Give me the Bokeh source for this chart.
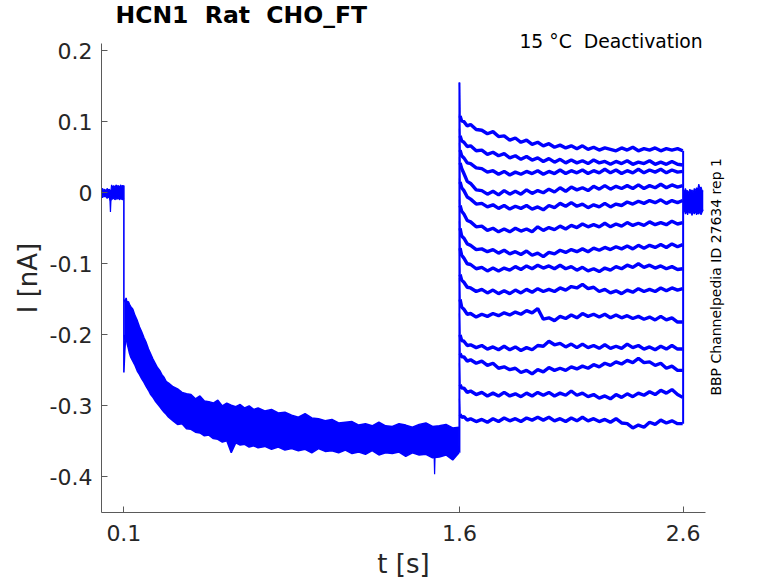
import math
from bokeh.plotting import figure
from bokeh.models import FixedTicker, Range1d, NumeralTickFormatter, LinearAxis
from bokeh.embed import file_html
from bokeh.resources import INLINE

TRACE_COLOR = "#0000ff"
FONT = "DejaVu Sans"
TEXT_COLOR = "#262626"
AXIS_COLOR = "#5a5a5a"

# double spaces kept visible with a no-break space
title_text = "HCN1 \u00a0Rat \u00a0CHO_FT"
condition_text = "15 °C \u00a0Deactivation"
id_text = "BBP Channelpedia ID 27634 rep 1"
x_label = "t [s]"
y_label = "I [nA]"

x_ticks = [0.1, 1.6, 2.6]
x_tick_labels = ["0.1", "1.6", "2.6"]
y_ticks = [-0.4, -0.3, -0.2, -0.1, 0.0, 0.1, 0.2]
y_tick_labels = ["-0.4", "-0.3", "-0.2", "-0.1", "0", "0.1", "0.2"]

# ---- holding current, 0 - 0.1 s (noise band edges, nA) ----
hold_t = [0.0, 0.005, 0.01, 0.015, 0.02, 0.025, 0.03, 0.035, 0.038, 0.04, 0.042, 0.045,
          0.05, 0.055, 0.06, 0.065, 0.07, 0.075, 0.08, 0.085, 0.09, 0.095, 0.1]
hold_hi = [0.004, 0.006, 0.003, 0.005, 0.002, 0.006, 0.004, 0.005, 0.003, -0.004, 0.002, 0.011,
           0.008, 0.010, 0.007, 0.011, 0.009, 0.010, 0.007, 0.011, 0.009, 0.010, 0.009]
hold_lo = [-0.005, -0.007, -0.004, -0.006, -0.005, -0.008, -0.006, -0.007, -0.012, -0.027, -0.012, -0.008,
           -0.009, -0.007, -0.010, -0.008, -0.009, -0.007, -0.010, -0.008, -0.009, -0.010, -0.008]

# ---- step onset at 0.1 s ----
onset_t = [0.1, 0.1, 0.1, 0.104, 0.108]
onset_i = [0.010, -0.253, -0.253, -0.222, -0.205]

# ---- activating prepulse 0.1 - 1.6 s: envelope of the 14 overlapping sweeps ----
pre_t = [0.102, 0.105, 0.11, 0.115, 0.12, 0.125, 0.13, 0.14, 0.15, 0.16, 0.17, 0.18, 0.19, 0.2,
         0.21, 0.22, 0.23, 0.24, 0.25, 0.26, 0.27, 0.28, 0.29, 0.3, 0.32, 0.34, 0.36, 0.38, 0.4,
         0.42, 0.44, 0.46, 0.48, 0.5, 0.52, 0.54, 0.56, 0.58, 0.6, 0.62, 0.64, 0.66, 0.68, 0.7,
         0.73, 0.76, 0.79, 0.82, 0.85, 0.88, 0.91, 0.94, 0.97, 1.0, 1.03, 1.06, 1.09, 1.12, 1.15,
         1.18, 1.21, 1.24, 1.27, 1.3, 1.33, 1.36, 1.39, 1.42, 1.45, 1.48, 1.51, 1.54, 1.57, 1.598]
pre_hi = [-0.150, -0.154, -0.148, -0.156, -0.153, -0.157, -0.160, -0.164, -0.173, -0.180,
          -0.189, -0.196, -0.204, -0.211, -0.220, -0.227, -0.234, -0.240, -0.246, -0.250,
          -0.256, -0.260, -0.266, -0.268, -0.273, -0.276, -0.281, -0.283, -0.284, -0.290,
          -0.286, -0.293, -0.294, -0.296, -0.292, -0.300, -0.296, -0.299, -0.301, -0.298,
          -0.303, -0.300, -0.305, -0.303, -0.307, -0.305, -0.310, -0.309, -0.313, -0.316,
          -0.311, -0.317, -0.318, -0.321, -0.319, -0.324, -0.323, -0.322, -0.327, -0.325,
          -0.328, -0.323, -0.328, -0.329, -0.325, -0.327, -0.330, -0.326, -0.324, -0.329,
          -0.328, -0.326, -0.331, -0.330]
pre_lo = [-0.200, -0.207, -0.204, -0.213, -0.219, -0.226, -0.231, -0.237, -0.243, -0.251,
          -0.256, -0.262, -0.267, -0.273, -0.278, -0.284, -0.288, -0.293, -0.297, -0.301,
          -0.305, -0.309, -0.312, -0.316, -0.321, -0.326, -0.325, -0.332, -0.333, -0.337,
          -0.338, -0.342, -0.341, -0.346, -0.347, -0.351, -0.349, -0.366, -0.352, -0.355,
          -0.354, -0.358, -0.356, -0.359, -0.357, -0.361, -0.358, -0.362, -0.360, -0.363,
          -0.361, -0.366, -0.360, -0.364, -0.363, -0.366, -0.362, -0.367, -0.365, -0.368,
          -0.363, -0.369, -0.366, -0.367, -0.365, -0.371, -0.366, -0.369, -0.368, -0.373,
          -0.372, -0.369, -0.376, -0.366]

# single downward glitch near 1.49 s
glitch_t = [1.486, 1.489, 1.492]
glitch_i = [-0.356, -0.396, -0.357]

# ---- deactivation test pulses 1.6 - 2.6 s ----
peak_t = 1.6
peak_i = [0.155, 0.110, 0.090, 0.070, 0.050, 0.020, -0.010, -0.040, -0.080, -0.120, -0.170, -0.200, -0.240, -0.290]

test_t = [1.603, 1.61, 1.62, 1.635, 1.65, 1.675, 1.7, 1.725, 1.75, 1.775, 1.8, 1.825, 1.85, 1.875,
          1.9, 1.925, 1.95, 1.975, 2.0, 2.025, 2.05, 2.075, 2.1, 2.125, 2.15, 2.175, 2.2, 2.225,
          2.25, 2.275, 2.3, 2.325, 2.35, 2.375, 2.4, 2.425, 2.45, 2.475, 2.5, 2.525, 2.55, 2.575, 2.598]
trace_01 = [0.108, 0.101, 0.100, 0.094, 0.096, 0.089, 0.088, 0.083, 0.086, 0.079, 0.080, 0.074, 0.077,
            0.071, 0.074, 0.068, 0.071, 0.066, 0.069, 0.064, 0.067, 0.063, 0.066, 0.062, 0.066, 0.061,
            0.064, 0.060, 0.063, 0.061, 0.059, 0.063, 0.060, 0.064, 0.059, 0.062, 0.060, 0.063, 0.059,
            0.062, 0.060, 0.062, 0.059]
trace_02 = [0.080, 0.073, 0.071, 0.065, 0.066, 0.059, 0.060, 0.054, 0.057, 0.052, 0.055, 0.049, 0.052,
            0.047, 0.051, 0.046, 0.049, 0.044, 0.048, 0.043, 0.047, 0.042, 0.046, 0.042, 0.045, 0.041,
            0.046, 0.042, 0.044, 0.040, 0.044, 0.041, 0.045, 0.040, 0.043, 0.041, 0.045, 0.040, 0.043,
            0.040, 0.044, 0.040, 0.039]
trace_03 = [0.060, 0.052, 0.049, 0.042, 0.041, 0.035, 0.034, 0.029, 0.031, 0.026, 0.030, 0.025, 0.029,
            0.026, 0.030, 0.027, 0.031, 0.026, 0.030, 0.027, 0.032, 0.027, 0.031, 0.028, 0.032, 0.027,
            0.031, 0.028, 0.033, 0.028, 0.032, 0.027, 0.031, 0.028, 0.033, 0.028, 0.032, 0.029, 0.033,
            0.028, 0.032, 0.029, 0.030]
trace_04 = [0.042, 0.034, 0.027, 0.016, 0.013, 0.004, 0.003, -0.002, 0.002, -0.003, 0.003, -0.002, 0.002,
            -0.002, 0.004, -0.001, 0.003, 0.000, 0.005, 0.001, 0.007, 0.002, 0.008, 0.004, 0.007, 0.003,
            0.009, 0.005, 0.010, 0.005, 0.009, 0.006, 0.010, 0.006, 0.011, 0.006, 0.010, 0.007, 0.012,
            0.007, 0.011, 0.008, 0.010]
trace_05 = [0.015, 0.007, 0.003, -0.006, -0.009, -0.016, -0.015, -0.020, -0.017, -0.022, -0.018, -0.023,
            -0.019, -0.022, -0.018, -0.023, -0.020, -0.024, -0.018, -0.021, -0.015, -0.019, -0.014, -0.019,
            -0.016, -0.021, -0.017, -0.020, -0.015, -0.020, -0.016, -0.018, -0.013, -0.016, -0.012, -0.015,
            -0.011, -0.014, -0.010, -0.015, -0.011, -0.014, -0.011]
trace_06 = [-0.018, -0.026, -0.030, -0.039, -0.041, -0.048, -0.047, -0.053, -0.050, -0.055, -0.051, -0.055,
            -0.050, -0.054, -0.051, -0.055, -0.048, -0.053, -0.049, -0.052, -0.047, -0.051, -0.046, -0.049,
            -0.044, -0.048, -0.045, -0.048, -0.043, -0.048, -0.044, -0.047, -0.042, -0.046, -0.043, -0.046,
            -0.041, -0.045, -0.042, -0.045, -0.040, -0.044, -0.042]
trace_07 = [-0.050, -0.061, -0.064, -0.072, -0.074, -0.080, -0.079, -0.083, -0.080, -0.085, -0.081, -0.086,
            -0.083, -0.087, -0.082, -0.088, -0.085, -0.090, -0.084, -0.086, -0.081, -0.084, -0.080, -0.083,
            -0.079, -0.083, -0.078, -0.081, -0.077, -0.080, -0.076, -0.079, -0.075, -0.079, -0.074, -0.078,
            -0.074, -0.077, -0.073, -0.077, -0.072, -0.076, -0.073]
trace_08 = [-0.078, -0.088, -0.092, -0.100, -0.101, -0.107, -0.105, -0.110, -0.106, -0.110, -0.106, -0.109,
            -0.104, -0.108, -0.103, -0.107, -0.102, -0.106, -0.103, -0.107, -0.102, -0.107, -0.104, -0.109,
            -0.105, -0.110, -0.107, -0.111, -0.106, -0.109, -0.104, -0.107, -0.102, -0.105, -0.100, -0.105,
            -0.102, -0.106, -0.103, -0.107, -0.104, -0.108, -0.107]
trace_09 = [-0.115, -0.123, -0.126, -0.133, -0.134, -0.139, -0.136, -0.141, -0.137, -0.142, -0.138, -0.142,
            -0.137, -0.141, -0.136, -0.140, -0.135, -0.139, -0.136, -0.139, -0.134, -0.137, -0.132, -0.134,
            -0.129, -0.135, -0.133, -0.139, -0.136, -0.141, -0.138, -0.142, -0.137, -0.140, -0.135, -0.139,
            -0.136, -0.139, -0.134, -0.138, -0.134, -0.137, -0.135]
trace_10 = [-0.150, -0.161, -0.164, -0.171, -0.170, -0.175, -0.171, -0.174, -0.170, -0.173, -0.169, -0.172,
            -0.168, -0.171, -0.166, -0.169, -0.163, -0.178, -0.176, -0.180, -0.174, -0.177, -0.172, -0.176,
            -0.170, -0.174, -0.171, -0.175, -0.171, -0.176, -0.172, -0.176, -0.173, -0.177, -0.174, -0.178,
            -0.175, -0.179, -0.174, -0.179, -0.176, -0.182, -0.182]
trace_11 = [-0.200, -0.208, -0.209, -0.215, -0.214, -0.218, -0.215, -0.220, -0.217, -0.221, -0.216, -0.221,
            -0.217, -0.222, -0.218, -0.221, -0.215, -0.216, -0.209, -0.214, -0.212, -0.217, -0.213, -0.218,
            -0.213, -0.218, -0.215, -0.219, -0.214, -0.219, -0.216, -0.219, -0.213, -0.218, -0.215, -0.220,
            -0.217, -0.221, -0.216, -0.220, -0.215, -0.220, -0.220]
trace_12 = [-0.226, -0.231, -0.231, -0.237, -0.235, -0.240, -0.237, -0.243, -0.240, -0.247, -0.245, -0.249,
            -0.247, -0.253, -0.250, -0.255, -0.249, -0.252, -0.246, -0.250, -0.247, -0.250, -0.245, -0.248,
            -0.244, -0.247, -0.242, -0.245, -0.240, -0.243, -0.238, -0.241, -0.236, -0.239, -0.233, -0.239,
            -0.238, -0.243, -0.240, -0.247, -0.244, -0.250, -0.250]
trace_13 = [-0.270, -0.275, -0.275, -0.281, -0.279, -0.284, -0.281, -0.286, -0.282, -0.286, -0.281, -0.286,
            -0.283, -0.287, -0.282, -0.286, -0.281, -0.285, -0.281, -0.286, -0.282, -0.285, -0.279, -0.285,
            -0.282, -0.287, -0.284, -0.289, -0.286, -0.290, -0.284, -0.288, -0.283, -0.287, -0.282, -0.285,
            -0.280, -0.284, -0.278, -0.282, -0.277, -0.284, -0.288]
trace_14 = [-0.312, -0.316, -0.315, -0.320, -0.318, -0.322, -0.319, -0.323, -0.318, -0.322, -0.317, -0.321,
            -0.318, -0.322, -0.317, -0.320, -0.316, -0.320, -0.316, -0.321, -0.318, -0.322, -0.317, -0.321,
            -0.316, -0.321, -0.318, -0.322, -0.319, -0.323, -0.318, -0.324, -0.325, -0.331, -0.327, -0.330,
            -0.323, -0.326, -0.320, -0.324, -0.321, -0.325, -0.325]
test_traces = [trace_01, trace_02, trace_03, trace_04, trace_05, trace_06, trace_07,
               trace_08, trace_09, trace_10, trace_11, trace_12, trace_13, trace_14]

# ---- return to holding after 2.6 s (noise band edges) ----
end_t = 2.6
tail_t = [2.6, 2.605, 2.61, 2.615, 2.62, 2.625, 2.63, 2.635, 2.64, 2.645, 2.65, 2.655, 2.66,
          2.665, 2.67, 2.675, 2.68, 2.685, 2.69]
tail_hi = [0.004, 0.001, 0.006, 0.002, 0.003, -0.001, 0.005, 0.002, 0.004, 0.000, 0.006, 0.003,
           0.007, 0.004, 0.012, 0.006, 0.008, 0.003, 0.002]
tail_lo = [-0.028, -0.024, -0.030, -0.026, -0.031, -0.025, -0.029, -0.027, -0.032, -0.026, -0.030,
           -0.025, -0.031, -0.028, -0.030, -0.026, -0.031, -0.027, -0.024]

# ---------------------------------------------------------------------------
p = figure(width=778, height=583, output_backend="svg", toolbar_location=None,
           x_range=Range1d(0, 2.7), y_range=Range1d(-0.45, 0.21),
           min_border_left=101, min_border_right=73, min_border_top=43, min_border_bottom=71)
p.outline_line_color = None
p.xgrid.visible = False
p.ygrid.visible = False
p.background_fill_color = "white"
p.border_fill_color = "white"

# traces
p.varea(x=hold_t, y1=hold_lo, y2=hold_hi, fill_color=TRACE_COLOR)
p.line(hold_t, hold_hi, line_color=TRACE_COLOR, line_width=1.2)
p.line(hold_t, hold_lo, line_color=TRACE_COLOR, line_width=1.2)
p.line(onset_t, onset_i, line_color=TRACE_COLOR, line_width=1.6)

p.varea(x=pre_t, y1=pre_lo, y2=pre_hi, fill_color=TRACE_COLOR)
p.line(pre_t, pre_hi, line_color=TRACE_COLOR, line_width=1.5)
p.line(pre_t, pre_lo, line_color=TRACE_COLOR, line_width=1.5)
p.line(glitch_t, glitch_i, line_color=TRACE_COLOR, line_width=1.2)

p.segment(x0=[peak_t], y0=[min(pre_lo[-1], pre_hi[-1])], x1=[peak_t], y1=[max(peak_i)],
          line_color=TRACE_COLOR, line_width=2)
ends = [tr[-1] for tr in test_traces]
p.segment(x0=[end_t], y0=[min(ends)], x1=[end_t], y1=[max(ends)],
          line_color=TRACE_COLOR, line_width=2)
for tr, pk in zip(test_traces, peak_i):
    p.line([peak_t] + test_t[:1], [pk] + tr[:1], line_color=TRACE_COLOR, line_width=1.2)
    p.line(test_t, tr, line_color=TRACE_COLOR, line_width=3.4)

p.varea(x=tail_t, y1=tail_lo, y2=tail_hi, fill_color=TRACE_COLOR)
p.line(tail_t, tail_hi, line_color=TRACE_COLOR, line_width=1.2)
p.line(tail_t, tail_lo, line_color=TRACE_COLOR, line_width=1.2)

# axes
for ax, ticks, labels in ((p.xaxis, x_ticks, x_tick_labels), (p.yaxis, y_ticks, y_tick_labels)):
    ax.ticker = FixedTicker(ticks=ticks)
    ax.major_label_overrides = dict(zip(ticks, labels))
    ax.axis_line_color = AXIS_COLOR
    ax.major_tick_line_color = AXIS_COLOR
    ax.minor_tick_line_color = None
    ax.major_tick_in = 6
    ax.major_tick_out = 0
    ax.major_label_text_font = FONT
    ax.major_label_text_font_size = "22px"
    ax.major_label_text_color = TEXT_COLOR
    ax.axis_label_text_font = FONT
    ax.axis_label_text_font_size = "26px"
    ax.axis_label_text_font_style = "normal"
    ax.axis_label_text_color = TEXT_COLOR
p.yaxis.formatter = NumeralTickFormatter(format="0.[0]")
p.xaxis.formatter = NumeralTickFormatter(format="0.0")
p.yaxis.major_label_standoff = 9
p.xaxis.major_label_standoff = 12
p.xaxis.axis_label = x_label
p.yaxis.axis_label = y_label
p.xaxis.axis_label_standoff = 5
p.yaxis.axis_label_standoff = 4


def text_axis(pos, text, size, standoff, orientation="horizontal"):
    """An axis with no line or ticks that only carries one text at `pos`."""
    return LinearAxis(ticker=FixedTicker(ticks=[pos]), major_label_overrides={pos: text},
                      axis_line_color=None, major_tick_line_color=None, minor_tick_line_color=None,
                      major_tick_in=0, major_tick_out=0, major_label_standoff=standoff,
                      major_label_orientation=orientation,
                      major_label_text_font=FONT, major_label_text_font_size=size,
                      major_label_text_color="black")


# condition text: just above / touching the top of the frame, right side
cond_pos = 2.278
p.add_layout(text_axis(cond_pos, condition_text, "18.8px", -8), "above")

# channel id, written vertically at the right of the frame, starting at id_pos
id_pos = -0.2855
p.add_layout(text_axis(id_pos, id_text, "14px", 11, math.pi / 2), "right")

# title
p.title.text = title_text
p.title.align = "left"
p.title.offset = 14
p.title.standoff = -3
p.title.text_font = FONT
p.title.text_font_size = "23.5px"
p.title.text_font_style = "bold"
p.title.text_color = "black"

open("out.html", "w").write(file_html(p, INLINE))
